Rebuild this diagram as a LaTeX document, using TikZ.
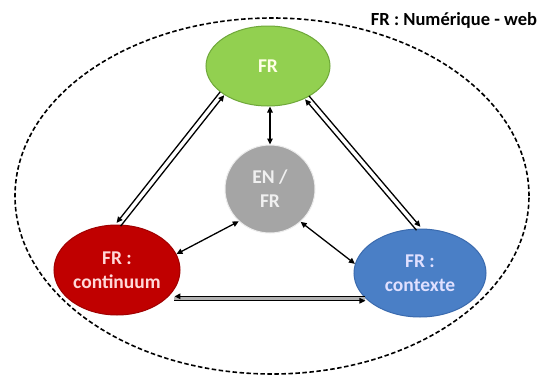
\documentclass[tikz,border=0pt]{standalone}
\usepackage{fontspec}
\setmainfont{Carlito}
\usetikzlibrary{shapes.geometric,arrows.meta,calc}
\definecolor{gfill}{HTML}{92D050}
\definecolor{gdraw}{HTML}{6FA83A}
\definecolor{efill}{HTML}{A5A5A5}
\definecolor{rfill}{HTML}{C00000}
\definecolor{rdraw}{HTML}{A00000}
\definecolor{bfill}{HTML}{4A7FC6}
\definecolor{bdraw}{HTML}{3A6AAE}
\tikzset{
  bub/.style={ellipse, inner sep=0pt, line width=1pt, align=center,
    font=\fontsize{19.5}{24}\selectfont\bfseries},
  conn/.style={line width=1.3pt, draw=black, -{Triangle[length=6pt,width=5.5pt]}},
  bconn/.style={line width=1.3pt, draw=black, {Triangle[length=6pt,width=5.5pt]}-{Triangle[length=6pt,width=5.5pt]}}
}
\begin{document}
\begin{tikzpicture}[x=1pt,y=-1pt]
\useasboundingbox (0,0) rectangle (542,378);
\fill[white] (0,0) rectangle (542,378);
\draw[line width=1.6pt, dash pattern=on 4.5pt off 2.5pt] (272,196) ellipse [x radius=257pt, y radius=178pt];
\node[fill=white, inner sep=1pt, font=\fontsize{18.5}{22}\selectfont\bfseries] (title) at (454,20) {FR : Numérique - web};

\node[bub, fill=gfill, draw=gdraw, minimum width=124pt, minimum height=80pt, text=white!90!yellow] (g) at (268,66) {FR};
\node[bub, fill=efill, draw=white!85!gray, minimum width=90pt, minimum height=88pt, text=white!88!gray] (e) at (270,189) {EN /\\FR};
\node[bub, fill=rfill, draw=rdraw, minimum width=126pt, minimum height=90pt, text=white!85!red] (r) at (117,270) {FR :\\continuum};
\node[bub, fill=bfill, draw=bdraw, minimum width=132pt, minimum height=88pt, text=white!88!blue] (b) at (420,273) {FR :\\contexte};

% vertical
\draw[bconn] (e.north |- g.south) -- (e.north);
% left pair
\draw[conn] ([shift={(2.0,1.65)}]r.88) -- ([shift={(2.0,1.65)}]g.211);
\draw[conn] ([shift={(-2.0,-1.65)}]g.211) -- ([shift={(-2.0,-1.65)}]r.88);
% right pair
\draw[conn] ([shift={(-1.95,1.7)}]b.92) -- ([shift={(-1.95,1.7)}]g.321);
\draw[conn] ([shift={(1.95,-1.7)}]g.321) -- ([shift={(1.95,-1.7)}]b.92);
% bottom pair
\coordinate (rb) at ($(r.-30)+(8,0)$);
\draw[line width=4pt, draw=gray!60] (rb) -- (rb -| b.205);
\draw[conn] ($(rb -| b.205)+(0,-2.2)$) -- ($(rb)+(0,-2.2)$);
\draw[conn] ($(rb)+(0,2.2)$) -- ($(rb -| b.205)+(0,2.2)$);
% diagonals to centre
\draw[bconn] (e.226) -- (r.15);
\draw[bconn] (e.313) -- (b.172);
\end{tikzpicture}
\end{document}
